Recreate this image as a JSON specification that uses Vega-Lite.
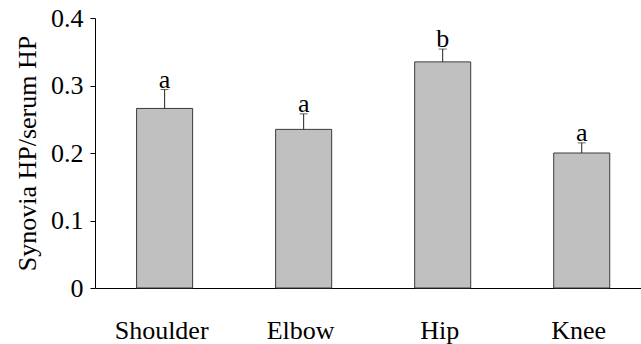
{
  "$schema": "https://vega.github.io/schema/vega-lite/v6.json",
  "autosize": {"type": "none"},
  "padding": {"left": 95, "top": 18, "right": 0, "bottom": 56},
  "width": 546,
  "height": 270,
  "background": "white",
  "config": {
    "view": {"stroke": null},
    "font": "Liberation Serif",
    "axis": {"grid": false, "domainColor": "black", "tickColor": "black", "labelColor": "black", "titleColor": "black", "labelFont": "Liberation Serif", "titleFont": "Liberation Serif", "labelFontSize": 26, "titleFontSize": 26, "titleFontWeight": "normal"}
  },
  "data": {
    "values": [
      {"joint": "Shoulder", "ratio": 0.266, "upper": 0.294, "group": "a"},
      {"joint": "Elbow", "ratio": 0.235, "upper": 0.258, "group": "a"},
      {"joint": "Hip", "ratio": 0.335, "upper": 0.354, "group": "b"},
      {"joint": "Knee", "ratio": 0.2, "upper": 0.215, "group": "a"}
    ]
  },
  "encoding": {
    "x": {
      "field": "joint", "type": "nominal", "sort": null,
      "scale": {"paddingInner": 0.597, "paddingOuter": 0.262, "align": 0.571},
      "axis": {"title": null, "labelAngle": 0, "ticks": false, "tickSize": 0, "labelPadding": 50, "labelBaseline": "alphabetic", "labelOffset": -3, "domainWidth": 1}
    }
  },
  "layer": [
    {
      "mark": {"type": "bar", "fill": "#c0c0c0", "stroke": "#3a3a3a", "strokeWidth": 1},
      "encoding": {
        "y": {
          "field": "ratio", "type": "quantitative",
          "scale": {"domain": [0, 0.4], "nice": false},
          "axis": {"title": "Synovia HP/serum HP", "values": [0, 0.1, 0.2, 0.3, 0.4], "format": "~g", "tickSize": 5, "labelPadding": 7, "titlePadding": 10}
        }
      }
    },
    {
      "mark": {"type": "rule", "color": "#222", "strokeWidth": 1},
      "encoding": {
        "y": {"field": "ratio", "type": "quantitative"},
        "y2": {"field": "upper"}
      }
    },
    {
      "mark": {"type": "tick", "color": "#222", "size": 8, "thickness": 1, "orient": "horizontal"},
      "encoding": {
        "y": {"field": "upper", "type": "quantitative"}
      }
    },
    {
      "mark": {"type": "text", "baseline": "alphabetic", "dy": -2, "fontSize": 26, "font": "Liberation Serif", "color": "black"},
      "encoding": {
        "y": {"field": "upper", "type": "quantitative"},
        "text": {"field": "group"}
      }
    }
  ]
}
